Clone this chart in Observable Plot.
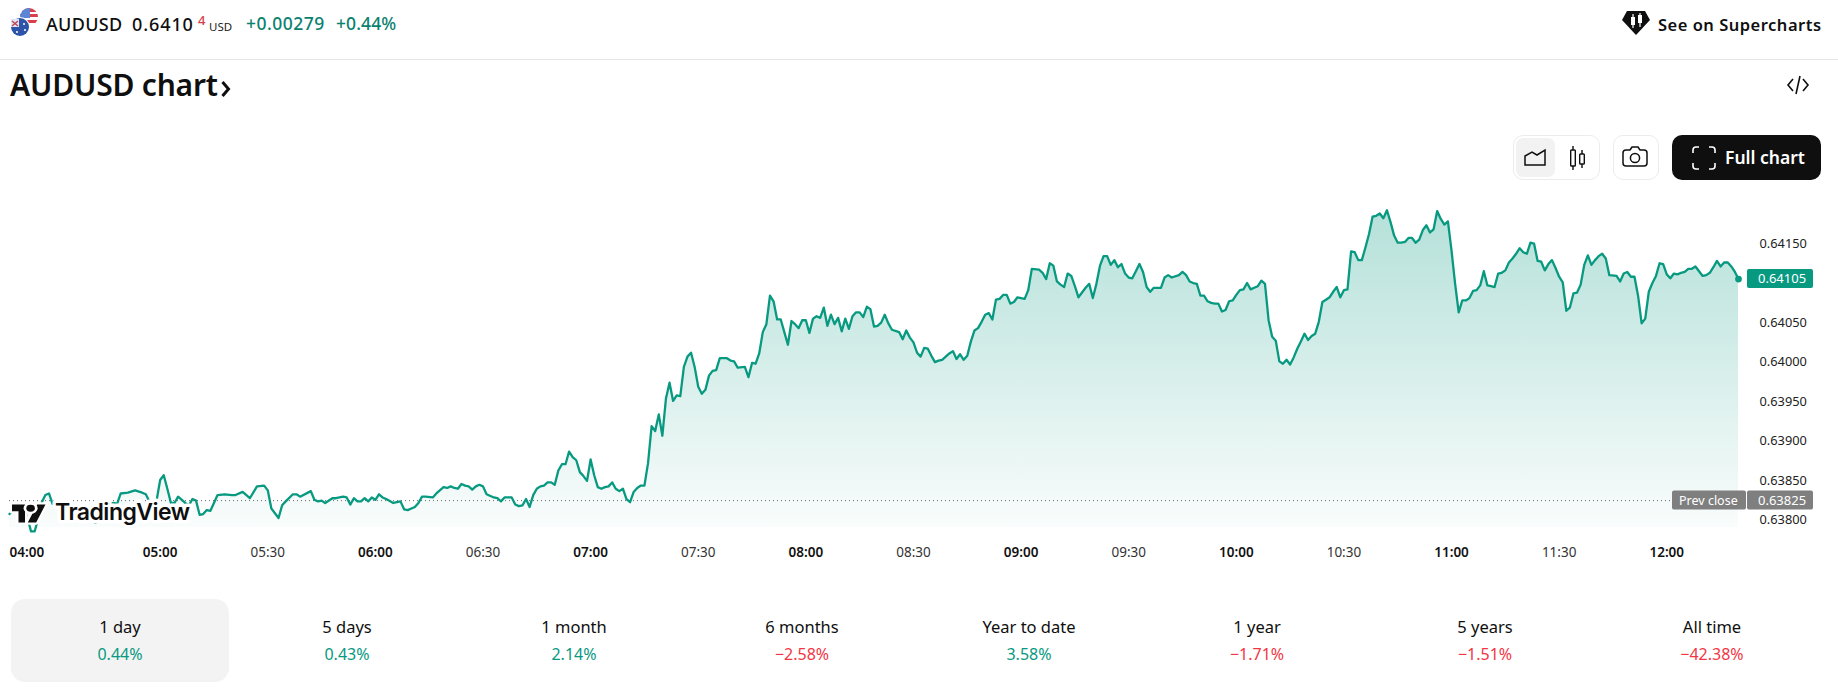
<!DOCTYPE html>
<html>
<head>
<meta charset="utf-8">
<script src="https://cdn.jsdelivr.net/npm/d3@7"></script>
<script src="https://cdn.jsdelivr.net/npm/@observablehq/plot@0.6"></script>
<style>
html,body{margin:0;padding:0;background:#fff;width:1838px;height:688px;overflow:hidden;font-family:"Noto Sans",sans-serif;color:#0f0f0f}
.a{position:absolute;white-space:nowrap;line-height:1}
#chart{position:absolute;left:0;top:190px}
.tab{position:absolute;top:599px;width:218px;height:83px;border-radius:14px;text-align:center}
.tab .p{position:absolute;left:0;right:0;top:18px;font-size:16.5px;line-height:20px}
.tab .v{position:absolute;left:0;right:0;top:45px;font-size:16px;line-height:20px}
</style>
</head>
<body>
<svg class="a" style="left:10px;top:7px" width="30" height="30" viewBox="0 0 30 30">
  <defs><clipPath id="cu"><circle cx="19" cy="10" r="9"/></clipPath></defs>
  <g clip-path="url(#cu)"><rect x="9" y="0" width="20" height="20" fill="#fff"/>
    <rect x="9" y="1" width="20" height="4" fill="#d8404c"/><rect x="9" y="7" width="20" height="3" fill="#d8404c"/><rect x="9" y="13" width="20" height="3" fill="#d8404c"/>
    <rect x="9" y="0" width="11" height="11" fill="#5b86d6"/></g>
  <circle cx="10" cy="20" r="10" fill="#fff"/>
  <circle cx="10" cy="20" r="9" fill="#2d54a8"/>
  <rect x="1" y="12" width="8" height="8" fill="#dfe6f5"/>
  <path d="M2 14l6 5M8 14l-6 5" stroke="#c2414f" stroke-width="1.4"/>
  <circle cx="14" cy="17" r="1" fill="#fff"/><circle cx="15" cy="23" r="1" fill="#fff"/><circle cx="7" cy="25" r="1" fill="#fff"/>
</svg>
<div class="a" style="left:46px;top:15px;font-size:18px;font-weight:500;letter-spacing:.3px" id="sym">AUDUSD</div>
<div class="a" style="left:132px;top:15px;font-size:18px;font-weight:500;letter-spacing:.9px" id="last">0.6410</div>
<div class="a" style="left:198px;top:14px;font-size:13px;font-weight:500;color:#d13f4b" id="lastDigit">4</div>
<div class="a" style="left:209px;top:21px;font-size:11.5px;color:#222" id="cur">USD</div>
<div class="a" style="left:246px;top:15px;font-size:17.5px;font-weight:500;color:#0b8170;letter-spacing:.5px" id="chg">+0.00279</div>
<div class="a" style="left:336px;top:15px;font-size:17.5px;font-weight:500;color:#0b8170;letter-spacing:.1px" id="pct">+0.44%</div>
<svg class="a" style="left:1622px;top:10px" width="28" height="28" viewBox="0 0 28 28">
  <path d="M5 1h18l5 9-14 15L0 10z" fill="#0f0f0f"/>
  <rect x="9" y="7" width="4" height="8" fill="#fff"/><rect x="10.4" y="4" width="1.2" height="14" fill="#fff"/>
  <rect x="16" y="5" width="4" height="8" fill="#fff"/><rect x="17.4" y="3" width="1.2" height="14" fill="#fff"/>
</svg>
<div class="a" style="left:1658px;top:17px;font-size:16.5px;font-weight:600;letter-spacing:.5px">See on Supercharts</div>
<div class="a" style="left:0;top:59px;width:1838px;height:1px;background:#e6e6e6"></div>
<div class="a" style="left:10px;top:70px;font-size:30px;font-weight:600;letter-spacing:-.2px">AUDUSD chart</div>
<svg class="a" style="left:220px;top:80px" width="12" height="18" viewBox="0 0 12 18"><path d="M2.5 2l6 7-6 7" fill="none" stroke="#0f0f0f" stroke-width="3"/></svg>
<svg class="a" style="left:1786px;top:75px" width="24" height="20" viewBox="0 0 24 20"><path d="M7 4L2 10l5 6M17 4l5 6-5 6M14 1l-4 18" fill="none" stroke="#0f0f0f" stroke-width="1.6"/></svg>

<div id="chart"></div>

<svg class="a" style="left:0;top:0;pointer-events:none" width="1838" height="688">
  <g transform="translate(12 503) scale(.93 .75)" stroke="#fff" stroke-width="6" paint-order="stroke" fill="#0f0f0f" stroke-linejoin="round">
    <path d="M14 26H7V11H0V2h14zM26 26h-9L27 2h9z"/><circle cx="20" cy="7" r="4.6"/>
  </g>
  <text x="55" y="520" font-family="Inter" font-size="23" font-weight="600" letter-spacing="-.5" fill="#0f0f0f" stroke="#fff" stroke-width="7" paint-order="stroke" stroke-linejoin="round">TradingView</text>
</svg>

<div class="a" style="left:1513px;top:135px;width:85px;height:43px;border:1px solid #ececec;border-radius:10px"></div>
<div class="a" style="left:1516px;top:138px;width:39px;height:39px;background:#f2f2f2;border-radius:7px"></div>
<svg class="a" style="left:1523px;top:146px" width="24" height="22" viewBox="0 0 24 22"><path d="M2 19V10l7-4 5 3 8-5v15z" fill="none" stroke="#0f0f0f" stroke-width="1.5"/></svg>
<svg class="a" style="left:1566px;top:145px" width="22" height="26" viewBox="0 0 22 26"><path d="M7 1v24M16 5v18" stroke="#0f0f0f" stroke-width="1.4"/><rect x="4.7" y="5" width="4.6" height="16" rx=".8" fill="#fff" stroke="#0f0f0f" stroke-width="1.4"/><rect x="13.7" y="9" width="4.6" height="10" rx=".8" fill="#fff" stroke="#0f0f0f" stroke-width="1.4"/></svg>
<div class="a" style="left:1613px;top:135px;width:44px;height:43px;border:1px solid #ececec;border-radius:10px"></div>
<svg class="a" style="left:1622px;top:146px" width="26" height="22" viewBox="0 0 26 22"><path d="M8 4l2-3h6l2 3h4a3 3 0 0 1 3 3v10a3 3 0 0 1-3 3H4a3 3 0 0 1-3-3V7a3 3 0 0 1 3-3z" fill="none" stroke="#0f0f0f" stroke-width="1.5"/><circle cx="13" cy="12" r="4.6" fill="none" stroke="#0f0f0f" stroke-width="1.5"/></svg>
<div class="a" style="left:1672px;top:135px;width:149px;height:45px;background:#0f0f0f;border-radius:10px"></div>
<svg class="a" style="left:1692px;top:146px" width="24" height="24" viewBox="0 0 24 24"><path d="M1 7V4a3 3 0 0 1 3-3h3M17 1h3a3 3 0 0 1 3 3v3M23 17v3a3 3 0 0 1-3 3h-3M7 23H4a3 3 0 0 1-3-3v-3" fill="none" stroke="#fff" stroke-width="1.6"/></svg>
<div class="a" style="left:1725px;top:149px;font-size:17.5px;font-weight:600;color:#fff">Full chart</div>

<div id="tabs"></div>

<script>
// Chart values: [minutes after 04:00, price x 100000]
const quotes04 = [[18,63808],[20,63819],[22,63819],[23,63804],[24,63786],[25,63786],[26,63802],[27,63823],[28,63832],[29,63834],[30,63821],[31,63819],[33,63815],[34,63819],[35,63822],[36,63813],[38,63806],[41,63800],[42,63797],[44,63808],[46,63821],[47,63822],[48,63821],[49,63834],[51,63835],[53,63838],[55,63835],[56,63833],[57,63824],[58,63813],[59,63825]];
const quotes05 = [[60,63851],[61,63857],[62,63840],[63,63822],[64,63822],[65,63830],[67,63822],[68,63819],[69,63827],[70,63825],[71,63807],[72,63808],[73,63813],[74,63812],[76,63832],[78,63833],[80,63832],[81,63832],[83,63836],[85,63828],[87,63843],[89,63844],[90,63838],[91,63815],[93,63803],[94,63819],[95,63824],[97,63833],[98,63833],[99,63830],[102,63837],[103,63826],[104,63824],[105,63825],[106,63822],[108,63828],[109,63828],[111,63830],[112,63829],[113,63820],[114,63828],[115,63824],[116,63824],[117,63828],[118,63824],[119,63829]];
const quotes06 = [[120,63826],[121,63833],[122,63829],[123,63827],[125,63822],[126,63823],[127,63824],[128,63814],[129,63813],[131,63817],[132,63822],[133,63830],[134,63830],[136,63829],[137,63834],[139,63842],[140,63841],[141,63843],[142,63841],[143,63840],[144,63846],[145,63844],[146,63843],[147,63839],[148,63843],[149,63845],[150,63843],[151,63833],[153,63829],[154,63828],[155,63824],[156,63829],[158,63829],[159,63820],[160,63818],[161,63819],[162,63827],[163,63817],[164,63832],[165,63840],[166,63843],[167,63844],[168,63848],[169,63848],[170,63845],[171,63863],[172,63871],[173,63871],[174,63887],[175,63880],[176,63876],[177,63861],[178,63856],[179,63850]];
const quotes07 = [[180,63877],[181,63857],[182,63842],[183,63840],[184,63842],[185,63843],[186,63848],[187,63840],[188,63837],[189,63840],[190,63827],[191,63823],[192,63836],[193,63841],[194,63844],[195,63844],[196,63872],[197,63919],[198,63913],[199,63934],[200,63907],[201,63954],[202,63974],[203,63951],[204,63958],[205,63957],[206,63994],[207,64007],[208,64012],[209,63994],[210,63969],[211,63960],[212,63965],[213,63983],[214,63989],[215,63990],[216,64005],[218,64005],[219,64002],[220,64001],[221,63993],[223,63994],[224,63981],[225,63999],[226,63998],[227,64011],[228,64038],[229,64048],[230,64084],[231,64077],[232,64054],[233,64054],[234,64038],[235,64022],[236,64052],[237,64048],[238,64043],[239,64053]];
const quotes08 = [[240,64053],[241,64037],[242,64055],[243,64058],[244,64056],[245,64069],[246,64046],[247,64060],[248,64048],[249,64056],[250,64039],[251,64055],[252,64042],[253,64058],[254,64063],[255,64063],[256,64057],[257,64070],[258,64067],[259,64045],[260,64046],[261,64050],[262,64060],[263,64049],[264,64041],[266,64038],[267,64029],[268,64040],[269,64031],[270,64025],[271,64012],[272,64007],[273,64018],[274,64017],[275,64008],[276,64000],[277,64002],[278,64003],[279,64007],[280,64011],[281,64014],[282,64004],[283,64010],[284,64003],[285,64008],[286,64026],[287,64040],[288,64043],[289,64051],[290,64060],[291,64062],[292,64054],[293,64079],[294,64080],[295,64085],[296,64085],[297,64074],[298,64076],[299,64082]];
const quotes09 = [[301,64080],[302,64091],[303,64118],[305,64117],[306,64113],[307,64105],[308,64125],[309,64122],[310,64102],[311,64098],[312,64095],[313,64112],[314,64109],[315,64096],[316,64082],[317,64088],[318,64094],[319,64099],[320,64081],[321,64099],[322,64122],[323,64134],[324,64134],[325,64123],[326,64129],[327,64120],[328,64124],[329,64112],[330,64107],[331,64106],[332,64115],[333,64124],[334,64114],[335,64095],[336,64089],[337,64094],[339,64094],[340,64107],[341,64110],[342,64107],[344,64110],[345,64114],[346,64110],[347,64102],[348,64100],[349,64099],[350,64084],[351,64084],[352,64077],[353,64075],[354,64074],[355,64074],[356,64064],[357,64066],[358,64077],[359,64078]];
const quotes10 = [[360,64085],[361,64091],[362,64092],[363,64100],[364,64092],[365,64094],[366,64096],[367,64103],[368,64099],[369,64053],[370,64032],[371,64027],[372,64001],[373,63998],[374,64003],[375,63997],[376,64006],[377,64017],[378,64026],[379,64036],[380,64028],[381,64033],[382,64036],[383,64051],[384,64076],[385,64079],[386,64082],[387,64089],[388,64095],[389,64082],[390,64091],[391,64092],[392,64140],[393,64139],[394,64129],[395,64129],[396,64145],[397,64162],[398,64184],[399,64185],[400,64188],[401,64182],[402,64192],[403,64177],[404,64160],[405,64151],[406,64151],[407,64152],[408,64157],[409,64157],[410,64151],[411,64155],[412,64167],[413,64173],[414,64164],[415,64168],[416,64191],[417,64181],[418,64174],[419,64178]];
const quotes11 = [[420,64141],[421,64099],[422,64063],[423,64078],[424,64078],[425,64081],[426,64090],[427,64091],[428,64097],[429,64115],[430,64097],[431,64096],[432,64095],[433,64112],[434,64113],[435,64116],[436,64126],[437,64131],[438,64137],[439,64144],[440,64139],[441,64137],[442,64151],[443,64150],[444,64128],[445,64127],[446,64116],[447,64124],[448,64129],[449,64119],[450,64108],[451,64101],[452,64065],[453,64069],[454,64087],[455,64088],[456,64098],[457,64123],[458,64135],[459,64123],[460,64129],[461,64134],[462,64137],[463,64131],[464,64110],[466,64109],[467,64102],[468,64112],[469,64114],[470,64108],[471,64108],[472,64084],[473,64049],[474,64055],[475,64089],[476,64100],[477,64109],[478,64125],[479,64124]];
const quotes12 = [[480,64111],[481,64106],[482,64112],[483,64111],[484,64113],[485,64114],[486,64118],[487,64118],[488,64121],[489,64115],[490,64109],[491,64110],[492,64113],[493,64120],[494,64128],[495,64121],[496,64126],[497,64126],[498,64121],[499,64114],[500,64105]];

const priceTicks = [0.638, 0.6385, 0.639, 0.6395, 0.64, 0.6405, 0.6415];
const prevClose = 0.63825;
const lastPrice = 0.64105;
const hourTicks = [60, 120, 180, 240, 300, 360, 420, 480];
const hourLabels = ["05:00", "06:00", "07:00", "08:00", "09:00", "10:00", "11:00", "12:00"];
const halfTicks = [90, 150, 210, 270, 330, 390, 450];
const halfLabels = ["05:30", "06:30", "07:30", "08:30", "09:30", "10:30", "11:30"];
const firstTick = [18];
const firstLabel = "04:00";

const periods = ["1 day", "5 days", "1 month", "6 months", "Year to date", "1 year", "5 years", "All time"];
const changes = ["0.44%", "0.43%", "2.14%", "\u22122.58%", "3.58%", "\u22121.71%", "\u22121.51%", "\u221242.38%"];
const tabCenters = [120, 347, 574, 802, 1029, 1257, 1485, 1712];

const GREEN = "#089981", RED = "#f23645", GREY = "#7f7f7f";
const data = [...quotes04, ...quotes05, ...quotes06, ...quotes07, ...quotes08, ...quotes09, ...quotes10, ...quotes11, ...quotes12]
  .map(([t, p]) => ({t, price: p / 1e5}));
const last = data[data.length - 1];
const font = '"Noto Sans",sans-serif';
const yMin = 0.63791;

const plot = Plot.plot({
  width: 1838, height: 390,
  marginLeft: 9, marginRight: 100, marginTop: 0, marginBottom: 53,
  style: {fontFamily: font, background: "transparent", overflow: "visible"},
  x: {type: "linear", domain: [18, 500]},
  y: {type: "linear", domain: [yMin, 0.64217]},
  marks: [
    () => {
      const g = d3.create("svg:defs");
      const lg = g.append("linearGradient").attr("id", "areaFill").attr("x1", 0).attr("x2", 0).attr("y1", 0).attr("y2", 1);
      lg.append("stop").attr("offset", "0%").attr("stop-color", GREEN).attr("stop-opacity", 0.3);
      lg.append("stop").attr("offset", "100%").attr("stop-color", GREEN).attr("stop-opacity", 0.02);
      return g.node();
    },
    Plot.areaY(data, {x: "t", y1: () => yMin, y2: "price", fill: "url(#areaFill)"}),
    Plot.ruleY([prevClose], {stroke: "#6a6a6a", strokeWidth: 1, strokeDasharray: "1 3"}),
    Plot.lineY(data, {x: "t", y: "price", stroke: GREEN, strokeWidth: 2.3, strokeLinejoin: "round"}),
    Plot.dot([last], {x: "t", y: "price", r: 3.4, fill: GREEN}),
    Plot.axisY({anchor: "right", ticks: priceTicks, tickSize: 0, tickPadding: 21, tickFormat: d3.format(".5f"), fontSize: 12.8, fill: "#222", label: null}),
    Plot.axisX({anchor: "bottom", ticks: hourTicks, tickSize: 0, tickPadding: 20, tickFormat: (d, i) => hourLabels[i], fontSize: 13.5, fontWeight: 600, fill: "#111", label: null}),
    Plot.axisX({anchor: "bottom", ticks: halfTicks, tickSize: 0, tickPadding: 20, tickFormat: (d, i) => halfLabels[i], fontSize: 13.5, fill: "#333", label: null}),
    Plot.axisX({anchor: "bottom", ticks: firstTick, tickSize: 0, tickPadding: 20, tickFormat: () => firstLabel, fontSize: 13.5, fontWeight: 600, fill: "#111", textAnchor: "start", label: null}),
    (index, {y}, values, {width, marginRight}) => {
      const g = d3.create("svg:g").attr("font-family", font).attr("font-size", 13).attr("fill", "#fff").attr("text-anchor", "start");
      const x0 = width - marginRight + 9;
      const tag = (v, color, w) => {
        g.append("rect").attr("x", x0).attr("y", y(v) - 9.5).attr("width", w).attr("height", 19).attr("rx", 2).attr("fill", color);
        g.append("text").attr("x", x0 + 11).attr("y", y(v)).attr("dy", "0.36em").text(d3.format(".5f")(v));
      };
      tag(lastPrice, GREEN, 66);
      tag(prevClose, GREY, 66);
      g.append("rect").attr("x", x0 - 75).attr("y", y(prevClose) - 9.5).attr("width", 74).attr("height", 19).attr("rx", 2).attr("fill", GREY);
      g.append("text").attr("x", x0 - 68).attr("y", y(prevClose)).attr("dy", "0.36em").attr("font-size", 12.5).text("Prev close");
      return g.node();
    }
  ]
});
document.getElementById("chart").appendChild(plot);

const tabs = document.getElementById("tabs");
periods.forEach((p, i) => {
  const el = document.createElement("div");
  el.className = "tab";
  el.style.left = (tabCenters[i] - 109) + "px";
  if (i === 0) el.style.background = "#f3f3f3";
  const a = document.createElement("div"); a.className = "p"; a.textContent = p;
  const b = document.createElement("div"); b.className = "v"; b.textContent = changes[i];
  b.style.color = changes[i].startsWith("\u2212") ? RED : GREEN;
  el.append(a, b);
  tabs.appendChild(el);
});
</script>
</body>
</html>
